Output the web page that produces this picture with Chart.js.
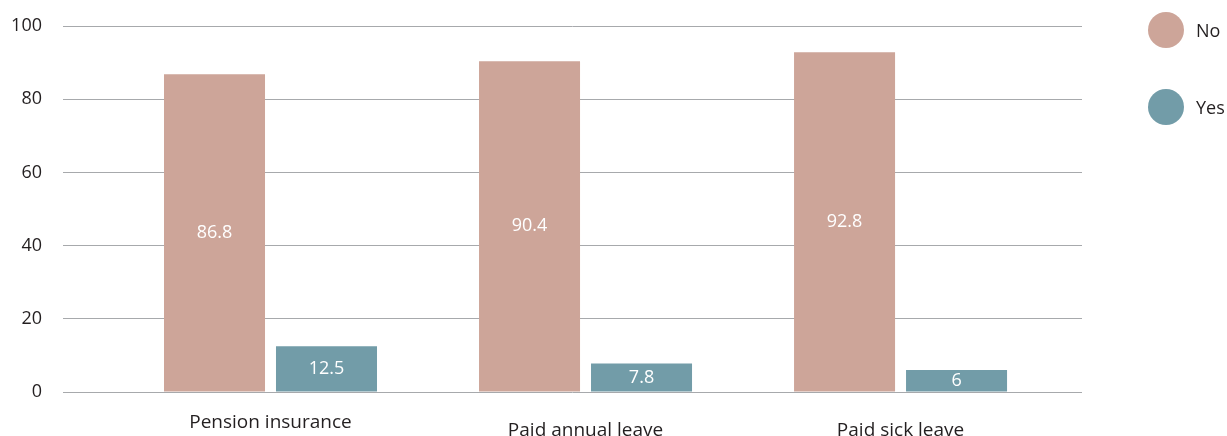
<!DOCTYPE html>
<html>
<head>
<meta charset="utf-8">
<script src="https://cdn.jsdelivr.net/npm/chart.js@4/dist/chart.umd.min.js"></script>
<style>
  html, body { margin: 0; padding: 0; background: #fff; }
  #wrap { position: relative; width: 1227px; height: 436px; }
  #benefitsChart { display: block; }
  .legend { position: absolute; left: 1148px; top: 0; font-family: "Open Sans", sans-serif; font-size: 18px; color: #231f20; }
  .legend div { display: flex; align-items: center; height: 36px; }
  .legend span.dot { display: inline-block; width: 36px; height: 36px; border-radius: 50%; margin-right: 12px; }
</style>
</head>
<body>
<div id="wrap">
  <canvas id="benefitsChart" width="1227" height="436"></canvas>
  <div class="legend" id="legend"></div>
</div>
<script>
const categories = ['Pension insurance', 'Paid annual leave', 'Paid sick leave'];
const values_no = [86.8, 90.4, 92.8];
const values_yes = [12.5, 7.8, 6];
const series_names = ['No', 'Yes'];
const y_ticks = [0, 20, 40, 60, 80, 100];

const colors = ['#cda599', '#729ca8'];
const fontFamily = '"Open Sans", sans-serif';

// bars sit at x = 0, 1, 2 on a linear axis
const toPoints = arr => arr.map((v, i) => ({ x: i, y: v }));

// white value labels in the middle of each bar
const barValues = {
    id: 'barValues',
    afterDatasetsDraw(chart) {
        const ctx = chart.ctx;
        ctx.save();
        ctx.fillStyle = '#ffffff';
        ctx.font = '18px ' + fontFamily;
        ctx.textAlign = 'center';
        ctx.textBaseline = 'middle';
        chart.data.datasets.forEach((ds, di) => {
            chart.getDatasetMeta(di).data.forEach((bar, i) => {
                const mid = (bar.y + bar.base) / 2;
                ctx.fillText(String(ds.data[i].y), bar.x, mid);
            });
        });
        ctx.restore();
    }
};

const chart_config = {
    type: 'bar',
    data: {
        datasets: [
            { label: series_names[0], data: toPoints(values_no), backgroundColor: colors[0], borderWidth: 0 },
            { label: series_names[1], data: toPoints(values_yes), backgroundColor: colors[1], borderWidth: 0 },
        ]
    },
    options: {
        responsive: false,
        animation: false,
        categoryPercentage: 0.711,
        barPercentage: 0.902,
        layout: { padding: { top: 26, right: 145, left: 0, bottom: 0 } },
        scales: {
            x: {
                type: 'linear',
                offset: false,
                min: -0.6587,
                max: 2.576,
                grid: { display: false, drawTicks: false },
                border: { display: false },
                afterFit: s => { s.height = 44; },
                ticks: {
                    stepSize: 1,
                    includeBounds: false,
                    autoSkip: false,
                    maxRotation: 0,
                    padding: 29,
                    color: '#231f20',
                    // first label sits a bit higher than the other two
                    font: c => ({ family: fontFamily, size: 19, lineHeight: c.index === 0 ? '4px' : '20px' }),
                    callback: v => categories[v] ?? ''
                }
            },
            y: {
                min: 0,
                max: 100,
                afterFit: s => { s.width = 63; s.paddingTop = 0; s.paddingBottom = 0; },
                afterBuildTicks: s => { s.ticks = y_ticks.map(v => ({ value: v })); },
                grid: { color: '#a7a9ac', lineWidth: 1, drawTicks: false },
                border: { display: false },
                ticks: {
                    padding: 21,
                    color: '#231f20',
                    font: { family: fontFamily, size: 18 }
                }
            }
        },
        plugins: {
            legend: { display: false },
            tooltip: { enabled: false }
        }
    },
    plugins: [barValues]
};

new Chart(document.getElementById('benefitsChart'), chart_config);

// legend on the right, circles
const legendBox = document.getElementById('legend');
const legendTops = [12, 89];
series_names.forEach((name, i) => {
    const row = document.createElement('div');
    row.style.position = 'absolute';
    row.style.top = legendTops[i] + 'px';
    row.style.whiteSpace = 'nowrap';
    row.innerHTML = '<span class="dot" style="background:' + colors[i] + '"></span>' + name;
    legendBox.appendChild(row);
});
</script>
</body>
</html>
